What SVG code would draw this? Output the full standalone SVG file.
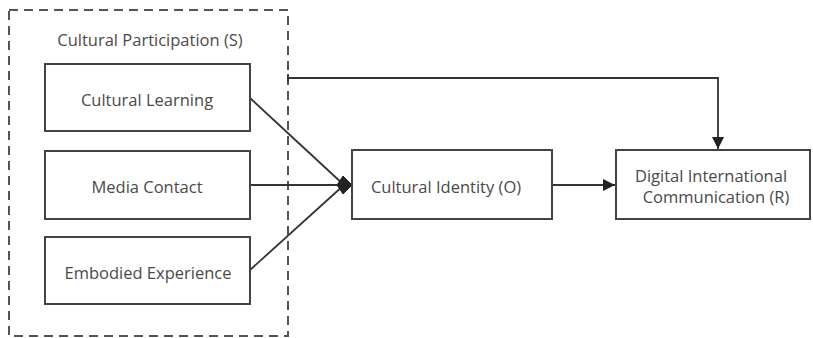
<svg xmlns="http://www.w3.org/2000/svg" width="813" height="338" viewBox="0 0 813 338">
<style>
.box{fill:#fff;stroke:#444;stroke-width:2}
.t{font-family:"Open Sans","Noto Sans",sans-serif;font-size:16.5px;fill:#4a4a4a;text-anchor:middle;dominant-baseline:central}
.c{fill:none;stroke:#333;stroke-width:1.8}
</style>
<defs>
<marker id="ah" viewBox="0 0 12 12" refX="12" refY="6" markerWidth="12" markerHeight="12" markerUnits="userSpaceOnUse" orient="auto">
<path d="M0,0 L12,6 L0,12 Z" fill="#222"/>
</marker>
</defs>
<rect width="813" height="338" fill="#fff"/>
<g id="group-S">
<rect x="9" y="10" width="279" height="326" fill="none" stroke="#555" stroke-width="2" stroke-dasharray="9,6"/>
<text class="t" x="150" y="39">Cultural Participation (S)</text>
</g>
<g id="connectors">
<line class="c" x1="288" y1="74" x2="288" y2="82"/>
<polyline class="c" points="288,78 718,78 718,149" marker-end="url(#ah)"/>
<line class="c" x1="250" y1="98" x2="344" y2="185"/>
<line class="c" x1="250" y1="185" x2="344" y2="185"/>
<line class="c" x1="250" y1="270" x2="344" y2="185"/>
<path d="M337,185 L343,176 L352,185 L343,194 Z" fill="#222" stroke="#222" stroke-width="1" stroke-linejoin="round"/>
<line class="c" x1="552" y1="185" x2="615" y2="185" marker-end="url(#ah)"/>
</g>
<g id="cultural-learning">
<rect class="box" x="45" y="64" width="205" height="67"/>
<text class="t" x="147" y="99">Cultural Learning</text>
</g>
<g id="media-contact">
<rect class="box" x="45" y="151" width="205" height="68"/>
<text class="t" x="147" y="186">Media Contact</text>
</g>
<g id="embodied-experience">
<rect class="box" x="45" y="237" width="205" height="67"/>
<text class="t" x="148" y="272">Embodied Experience</text>
</g>
<g id="cultural-identity">
<rect class="box" x="352" y="150" width="200" height="69"/>
<text class="t" x="446" y="186">Cultural Identity (O)</text>
</g>
<g id="digital-communication">
<rect class="box" x="616" y="150" width="194" height="69"/>
<text class="t" x="711" y="175">Digital International</text>
<text class="t" x="716" y="196">Communication (R)</text>
</g>
</svg>
